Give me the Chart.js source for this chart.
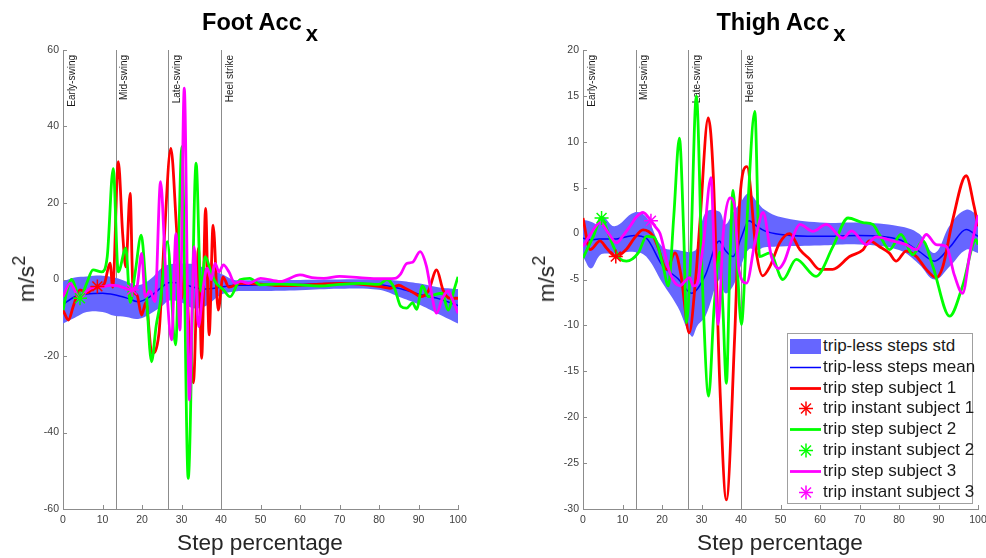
<!DOCTYPE html>
<html>
<head>
<meta charset="utf-8">
<script src="https://cdn.jsdelivr.net/npm/chart.js@4.4.0/dist/chart.umd.min.js"></script>
<style>
body{margin:0;width:986px;height:558px;overflow:hidden;background:#fff;position:relative;font-family:"Liberation Sans",Arial,sans-serif}
canvas{position:absolute;top:0}
.title{position:absolute;top:9px;font-weight:bold;font-size:23.5px;color:#000;white-space:nowrap;transform:translateX(-50%)}
.title .sub{position:relative;top:11px;margin-left:4px;font-size:22px}
.xt{position:absolute;top:530px;font-size:22.6px;color:#262626;white-space:nowrap;transform:translateX(-50%)}
.yt{position:absolute;top:279px;font-size:22.6px;color:#262626;white-space:nowrap;transform:translate(-50%,-50%) rotate(-90deg)}
.yt sup{font-size:0.8em;line-height:0}
.legend{position:absolute;left:787px;top:333px;width:184px;height:167px;border:1px solid #a0a0a0;background:#fff;padding-top:2px;box-sizing:content-box}
.legend div{height:20.8px;line-height:20.8px;font-size:17px;color:#1a1a1a;white-space:nowrap;position:relative}
.legend svg{position:absolute;left:1px;top:0}
.legend span{position:absolute;left:35px;top:0}
</style>
</head>
<body>
<canvas id="foot" width="493" height="558" style="left:0"></canvas>
<canvas id="thigh" width="500" height="558" style="left:500px"></canvas>

<div class="title" style="left:260px">Foot Acc<span class="sub">x</span></div>
<div class="title" style="left:781px">Thigh Acc<span class="sub">x</span></div>
<div class="xt" style="left:260px">Step percentage</div>
<div class="xt" style="left:780px">Step percentage</div>
<div class="yt" style="left:27px">m/s<sup>2</sup></div>
<div class="yt" style="left:547px">m/s<sup>2</sup></div>
<div class="legend" id="legend"></div>

<script>
// phase markers
var phaseLines = [13.33, 26.67, 40];
var phaseStarts = [0, 13.33, 26.67, 40];
var phaseNames = ['Early-swing', 'Mid-swing', 'Late-swing', 'Heel strike'];

// Foot Acc x
var footBandX = [0, 3, 6, 10, 13, 16, 19, 22, 25, 27, 30, 33, 36, 40, 43, 45, 50, 60, 70, 80, 85, 90, 95, 100];
var footMean = [-6.5, -4.5, -3.8, -3.6, -4, -4.8, -5.8, -4.5, -2, -0.8, -1, -2, -2.5, -2, -1.6, -1.5, -1.4, -1.3, -1, -1.3, -2.3, -3.8, -5, -6.8];
var footUpper = [-0.5, 0.5, 0.8, 1, 0.5, -0.5, -1.5, 0, 3, 4, 4.2, 4, 3, 1.5, 0, -0.2, -0.2, -0.1, 0, 0, -0.3, -1, -2, -2.5];
var footLower = [-11.5, -10, -8.5, -8.5, -9.5, -9.8, -10.3, -9, -7, -5.5, -6, -7.5, -7, -4, -3.2, -3, -3, -2.8, -2.4, -2.7, -4.5, -6.5, -9, -11.5];

var footX1 = [0, 1.4, 2.6, 4.3, 6, 7.5, 9, 10.5, 11.9, 12.6, 14, 15.1, 15.9, 17, 17.7, 18.7, 19.9, 21, 22.5, 24.3, 25.6, 27.3, 28.8, 30, 31, 32, 33, 34.3, 35.1, 36.1, 37, 38, 39.3, 40.5, 42, 45, 50, 55, 60, 65, 70, 75, 80, 82.8, 85, 87, 89, 90.5, 92.5, 94.6, 96.2, 97.9, 100];
var footY1 = [-8, -10.6, -7, -2.7, -3.5, -2.5, -2, -1, 4.3, -2, 30.8, 12, 3.3, 22.5, -2, -4, -9.3, -6, -19.3, -14, 10, 34.3, 12.5, -5, 3, -15, -27, 8.2, -20.6, 18.6, -14.5, 14.2, -8, 0.7, -2, -1, -1.2, -1.6, -1.5, -1.2, -1, -1.2, -1.8, -2.3, -1.5, -2.5, -3.6, -4.5, -3, 2.5, -2.7, -4.9, -4.9];

var footX2 = [0, 1, 2.2, 4.3, 6, 7.6, 9.8, 11.2, 12.7, 14, 15.9, 17, 18.3, 19.8, 21, 22.4, 23.6, 24.6, 26.4, 28.5, 30.1, 31.7, 33.7, 34.9, 36, 37.6, 38.8, 40.6, 42.3, 44.8, 47.3, 50, 55, 60, 65, 70, 75, 80, 82, 84, 85.5, 87, 88.5, 89.5, 91, 92.5, 94, 96, 97.5, 99, 100];
var footY2 = [-8, -3, 0, -4.9, -1, 2.5, 2, 6, 29, 2, 8.2, -6, 2, 11.6, -2, -21.5, -12, -6.2, 9.9, -17.1, 34.7, -52, 30.4, -3, 6, 1.5, -1, -2.7, -4.5, -0.1, 0.3, -1.4, -1.2, -1.4, -1.7, -1.3, -1, -1.3, 0, -2.5, -7, -7.5, -6.1, -7.8, -1.7, -4.5, -4, -3.6, -8, -2.7, 0.7];

var footX3 = [0, 1.8, 4.3, 6, 8, 10.2, 12, 13.6, 15, 17.5, 18.7, 19.9, 20.8, 22, 23.3, 24.7, 26, 27.5, 28.6, 29.6, 30.7, 32, 33.2, 34.3, 35.5, 36.5, 37.5, 38.5, 39.5, 40.6, 42, 43.5, 45, 47, 50, 55, 60, 63, 66, 70, 75, 80, 84, 85.5, 87, 88.5, 90.4, 92, 93, 94.6, 96, 97.5, 98.5, 100];
var footY3 = [-4.5, -1, -5, -3, -2, -1.9, -1.5, -1.6, -2, -2.7, -2, 6.8, -4.5, -3, -5.8, 25.6, 2, -15.8, 12, -13.2, 50, -31.5, 8.6, -12.3, -2, 3, 0, 4.2, 2, 3.8, 2, -1, -0.5, -1, 0.3, -0.5, 1.2, 0.5, 0.3, 0.8, 0.5, 0.2, 0.3, 1.5, 4.2, 4.5, 7.3, 3.5, -2, -8.8, -5, -3, -5, -8.8];

var footStarX = [8.7, 4.3, 17.5];
var footStarY = [-1.8, -4.9, -2.7];

// Thigh Acc x
var thighBandX = [0, 2, 4, 5, 8, 13, 16, 20, 24, 27.5, 29, 31, 34.5, 36, 38, 40, 42, 44, 46, 50, 60, 70, 80, 85, 89, 93, 97, 100];
var thighMean = [-0.5, -0.7, -0.6, -0.6, -0.6, -0.2, -0.5, -3.4, -4.9, -6.5, -6, -4.5, -0.8, -1.8, -2.5, -0.5, 1.4, 0.8, 0.3, -0.1, -0.3, -0.2, -0.65, -1.9, -3, -1.4, 0.45, -0.3];
var thighUpper = [1.5, 1.3, 1, 1.9, 0.8, 2.3, 1.8, -1.4, -1.8, -2, -1.5, 2.3, 2.4, 1, 2.3, 3.5, 4.4, 3.5, 2.6, 1.8, 1.2, 1.2, 0.8, 0, -2.1, 1, 2.6, 2];
var thighLower = [-2.5, -3.8, -2.5, -2.2, -2.2, -2, -2.5, -5.3, -8, -11.2, -10, -9, -5, -6.5, -5.7, -3.5, -1.7, -1.8, -1.5, -1.4, -1.3, -1.2, -1.8, -3.3, -5, -3.5, -1.75, -2.1];

var thighX1 = [0, 1.8, 4.3, 6, 8.3, 11, 13, 15.2, 17.8, 19, 21.2, 23.3, 24.8, 26.9, 28.5, 29.6, 31.7, 33, 34.6, 36.3, 38.4, 39.7, 41.5, 43.9, 45.5, 47.3, 49.8, 52.3, 54.9, 57.4, 59.9, 63.2, 67.5, 70.9, 72.5, 75, 77.5, 79.3, 81.8, 84.4, 86.9, 89.4, 91.1, 93.6, 97, 99, 100];
var thighY1 = [1.7, -1.75, -0.8, -1.6, -2.5, -1.7, -0.5, 0.4, -0.3, -1.5, -3.9, -2.1, -4.5, -10.8, -5, 1.2, 12.6, 6.2, -16, -29, -11.2, 3.7, 7.3, -2.1, -4.6, -3.6, -1, 0, -1.75, -2.8, -3.9, -3.9, -2.5, -1.75, -0.8, -1.4, -2.1, -3, -1.9, -2.5, -3.9, -4.8, -3.6, 1.5, 6.3, 3, 0.8];

var thighX2 = [0, 2.6, 4.7, 6, 7.7, 9.5, 11, 14, 16.1, 18, 20.3, 21.6, 23, 24.4, 25.5, 26.2, 27.2, 28.7, 30.2, 31.8, 33.2, 34.6, 35.4, 36.3, 37.2, 38, 39, 40.1, 41.6, 43.5, 44.7, 47.3, 50.6, 54, 59, 63.3, 67.1, 70.9, 73.4, 75, 77.6, 80.5, 83.5, 86, 88.6, 92.8, 96.1, 99.5, 100];
var thighY2 = [-2.65, -0.3, 1.7, 0.5, -1.4, -2.8, -3, -2.1, -0.3, -0.4, -3.6, -5.7, 2, 10.4, 0, -9.7, -3, 15, -5, -17.7, -8, -2, -8, -16.3, -3, 4.7, -3, -9.9, 2, 13.3, -2.5, -2.1, -5, -2.8, -4.65, -1.4, 1.7, 1.2, 1, -0.1, -1.75, -0.1, -2.3, -0.8, -3.6, -9, -5.7, -0.65, -1.2];

var thighX3 = [0, 2, 4.3, 6.5, 8.5, 10, 11.9, 13.5, 15.2, 17.2, 18.2, 19.5, 22, 24.5, 26.2, 27, 27.9, 28.7, 30.5, 32.4, 33.3, 34.2, 35.5, 37.2, 38.3, 39.5, 41.4, 43.5, 45.6, 47.7, 49.5, 51, 53, 54.9, 58.2, 61.6, 65.8, 68, 71.7, 74.2, 78.4, 81.8, 84.4, 86.9, 89.4, 92, 94, 96.1, 98, 100];
var thighY3 = [-1.4, 0, 1.2, 0, -1, -0.3, 0.8, 1.8, 2.3, 1.4, 0.8, 0, -4.3, -5.7, -5, -4.8, -5.7, -5.6, -1, 6.1, -3, -9.9, 0, 3.9, 3.2, -4, -5.4, -1, 2.3, -2.5, -3.8, -3, -0.5, 1, 0.25, 1, -0.5, 0.3, -1.2, -0.36, -0.8, -1.2, -1.75, -0.1, -1.2, -1.4, -4.5, -6.5, -2, 2];

var thighStarX = [8.3, 4.7, 17.2];
var thighStarY = [-2.5, 1.7, 1.4];

var colors = ['#ff0000', '#00ff00', '#ff00ff'];
var bandColor = '#6666ff';
var meanColor = '#0000ff';
var axisColor = '#8c8c8c';

function pts(xs, ys) {
	return xs.map(function(x, i) { return {x: x, y: ys[i]}; });
}

function lineSet(xs, ys, color, width, order) {
	return {data: pts(xs, ys), borderColor: color, borderWidth: width, pointRadius: 0,
		cubicInterpolationMode: 'monotone', fill: false, order: order};
}

function starSet(x, y, color) {
	return {data: [{x: x, y: y}], showLine: false, pointStyle: 'star', pointRadius: 7,
		borderColor: color, pointBorderColor: color, pointBorderWidth: 1.5, order: 0};
}

var phasePlugin = {
	id: 'phases',
	beforeDatasetsDraw: function(chart) {
		var ctx = chart.ctx, xs = chart.scales.x, ys = chart.scales.y, a = chart.chartArea;
		ctx.save();
		ctx.strokeStyle = axisColor;
		ctx.lineWidth = 1;
		phaseLines.forEach(function(v) {
			var px = Math.round(xs.getPixelForValue(v)) + 0.5;
			ctx.beginPath(); ctx.moveTo(px, a.top); ctx.lineTo(px, a.bottom); ctx.stroke();
		});
		// inward tick marks
		ys.ticks.forEach(function(t) {
			var py = Math.round(ys.getPixelForValue(t.value)) + 0.5;
			ctx.beginPath(); ctx.moveTo(a.left, py); ctx.lineTo(a.left + 4, py); ctx.stroke();
		});
		xs.ticks.forEach(function(t) {
			var px = Math.round(xs.getPixelForValue(t.value)) + 0.5;
			ctx.beginPath(); ctx.moveTo(px, a.bottom); ctx.lineTo(px, a.bottom - 4); ctx.stroke();
		});
		ctx.fillStyle = '#1a1a1a';
		ctx.font = '10px "Liberation Sans", Arial, sans-serif';
		ctx.textAlign = 'right';
		ctx.textBaseline = 'top';
		phaseNames.forEach(function(name, i) {
			var px = xs.getPixelForValue(phaseStarts[i]) + 4;
			ctx.save();
			ctx.translate(px, a.top + 5);
			ctx.rotate(-Math.PI / 2);
			ctx.fillText(name, 0, 0);
			ctx.restore();
		});
		ctx.restore();
	}
};

function makeChart(id, d) {
	var datasets = [
		{data: pts(d.bandX, d.upper), borderColor: 'rgba(0,0,0,0)', borderWidth: 0, backgroundColor: bandColor,
			pointRadius: 0, tension: 0.4, fill: '+1', order: 10},
		{data: pts(d.bandX, d.lower), borderColor: 'rgba(0,0,0,0)', borderWidth: 0, pointRadius: 0, tension: 0.4, fill: false, order: 10},
		lineSet(d.bandX, d.mean, meanColor, 1.5, 5),
		lineSet(d.x1, d.y1, colors[0], 2.8, 4),
		lineSet(d.x2, d.y2, colors[1], 2.8, 3),
		lineSet(d.x3, d.y3, colors[2], 2.8, 2)
	];
	for (var i = 0; i < 3; i++) {
		datasets.push(starSet(d.starX[i], d.starY[i], colors[i]));
	}
	var tickFont = {family: '"Liberation Sans", Arial, sans-serif', size: 10.5};
	return new Chart(document.getElementById(id), {
		type: 'line',
		data: {datasets: datasets},
		plugins: [phasePlugin],
		options: {
			responsive: false,
			animation: false,
			layout: {padding: {left: 0, right: d.padRight, top: 50, bottom: 0}},
			plugins: {legend: {display: false}, tooltip: {enabled: false}},
			scales: {
				x: {
					type: 'linear', min: 0, max: 100,
					ticks: {stepSize: 10, font: tickFont, color: '#404040', padding: 5, maxRotation: 0},
					grid: {display: true, drawOnChartArea: false, drawTicks: false},
					border: {display: true, color: axisColor},
					afterFit: function(s) { s.height = 49; }
				},
				y: {
					min: d.yMin, max: d.yMax,
					ticks: {stepSize: d.yStep, font: tickFont, color: '#404040', padding: 4},
					grid: {display: true, drawOnChartArea: false, drawTicks: false},
					border: {display: true, color: axisColor},
					afterFit: function(s) { s.width = d.axisWidth; }
				}
			}
		}
	});
}

makeChart('foot', {
	bandX: footBandX, mean: footMean, upper: footUpper, lower: footLower,
	x1: footX1, y1: footY1, x2: footX2, y2: footY2, x3: footX3, y3: footY3,
	starX: footStarX, starY: footStarY,
	yMin: -60, yMax: 60, yStep: 20, axisWidth: 63, padRight: 35
});

makeChart('thigh', {
	bandX: thighBandX, mean: thighMean, upper: thighUpper, lower: thighLower,
	x1: thighX1, y1: thighY1, x2: thighX2, y2: thighY2, x3: thighX3, y3: thighY3,
	starX: thighStarX, starY: thighStarY,
	yMin: -30, yMax: 20, yStep: 5, axisWidth: 83, padRight: 22
});

// legend
var legendItems = [
	{text: 'trip-less steps std', kind: 'patch', color: bandColor},
	{text: 'trip-less steps mean', kind: 'line', color: meanColor, w: 1.5},
	{text: 'trip step subject 1', kind: 'line', color: colors[0], w: 2.8},
	{text: 'trip instant subject 1', kind: 'star', color: colors[0]},
	{text: 'trip step subject 2', kind: 'line', color: colors[1], w: 2.8},
	{text: 'trip instant subject 2', kind: 'star', color: colors[1]},
	{text: 'trip step subject 3', kind: 'line', color: colors[2], w: 2.8},
	{text: 'trip instant subject 3', kind: 'star', color: colors[2]}
];
var legendHtml = '';
legendItems.forEach(function(it) {
	var g = '';
	if (it.kind === 'patch') {
		g = '<rect x="1" y="3" width="31" height="15" fill="' + it.color + '"/>';
	} else if (it.kind === 'line') {
		g = '<line x1="1" y1="10.5" x2="32" y2="10.5" stroke="' + it.color + '" stroke-width="' + it.w + '"/>';
	} else {
		g = '<g stroke="' + it.color + '" stroke-width="1.5">' +
			'<line x1="17" y1="3.5" x2="17" y2="17.5"/><line x1="10" y1="10.5" x2="24" y2="10.5"/>' +
			'<line x1="12" y1="5.5" x2="22" y2="15.5"/><line x1="12" y1="15.5" x2="22" y2="5.5"/></g>';
	}
	legendHtml += '<div><svg width="34" height="21">' + g + '</svg><span>' + it.text + '</span></div>';
});
document.getElementById('legend').innerHTML = legendHtml;
</script>
</body>
</html>
